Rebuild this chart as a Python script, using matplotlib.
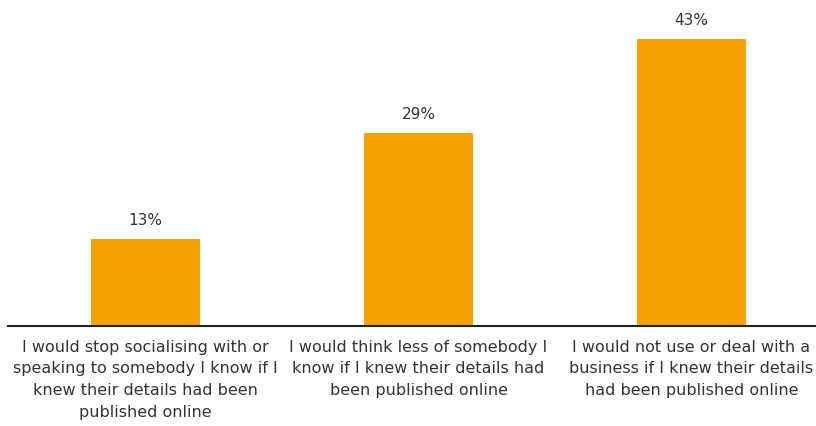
import matplotlib
matplotlib.use("Agg")
import matplotlib.pyplot as plt

categories = [
    "I would stop socialising with or\nspeaking to somebody I know if I\nknew their details had been\npublished online",
    "I would think less of somebody I\nknow if I knew their details had\nbeen published online",
    "I would not use or deal with a\nbusiness if I knew their details\nhad been published online",
]
values = [13, 29, 43]
value_labels = ["13%", "29%", "43%"]

fig = plt.figure(figsize=(8.16, 4.26), dpi=100)
ax = fig.add_axes([8/816, 1 - 326/426, 1 - 8/816, 326/426])
x = range(len(values))
bars = ax.bar(x, values, width=0.40, color="#F9A100")
ax.set_xlim(-0.504, 2.456)
ax.set_ylim(0, 48.9)
for xi, v, lab in zip(x, values, value_labels):
    ax.annotate(lab, (xi, v), xytext=(0, 8), textcoords="offset points",
                ha="center", va="bottom", fontsize=11, color="#333333")
ax.set_xticks(list(x))
ax.set_xticklabels(categories, fontsize=11.5, color="#333333", linespacing=1.55)
ax.tick_params(axis="x", length=0, pad=10)
ax.set_yticks([])
for s in ["top", "right", "left"]:
    ax.spines[s].set_visible(False)
ax.spines["bottom"].set_color("#222222")
ax.spines["bottom"].set_linewidth(1.5)
fig.savefig("out.png", dpi=100)
